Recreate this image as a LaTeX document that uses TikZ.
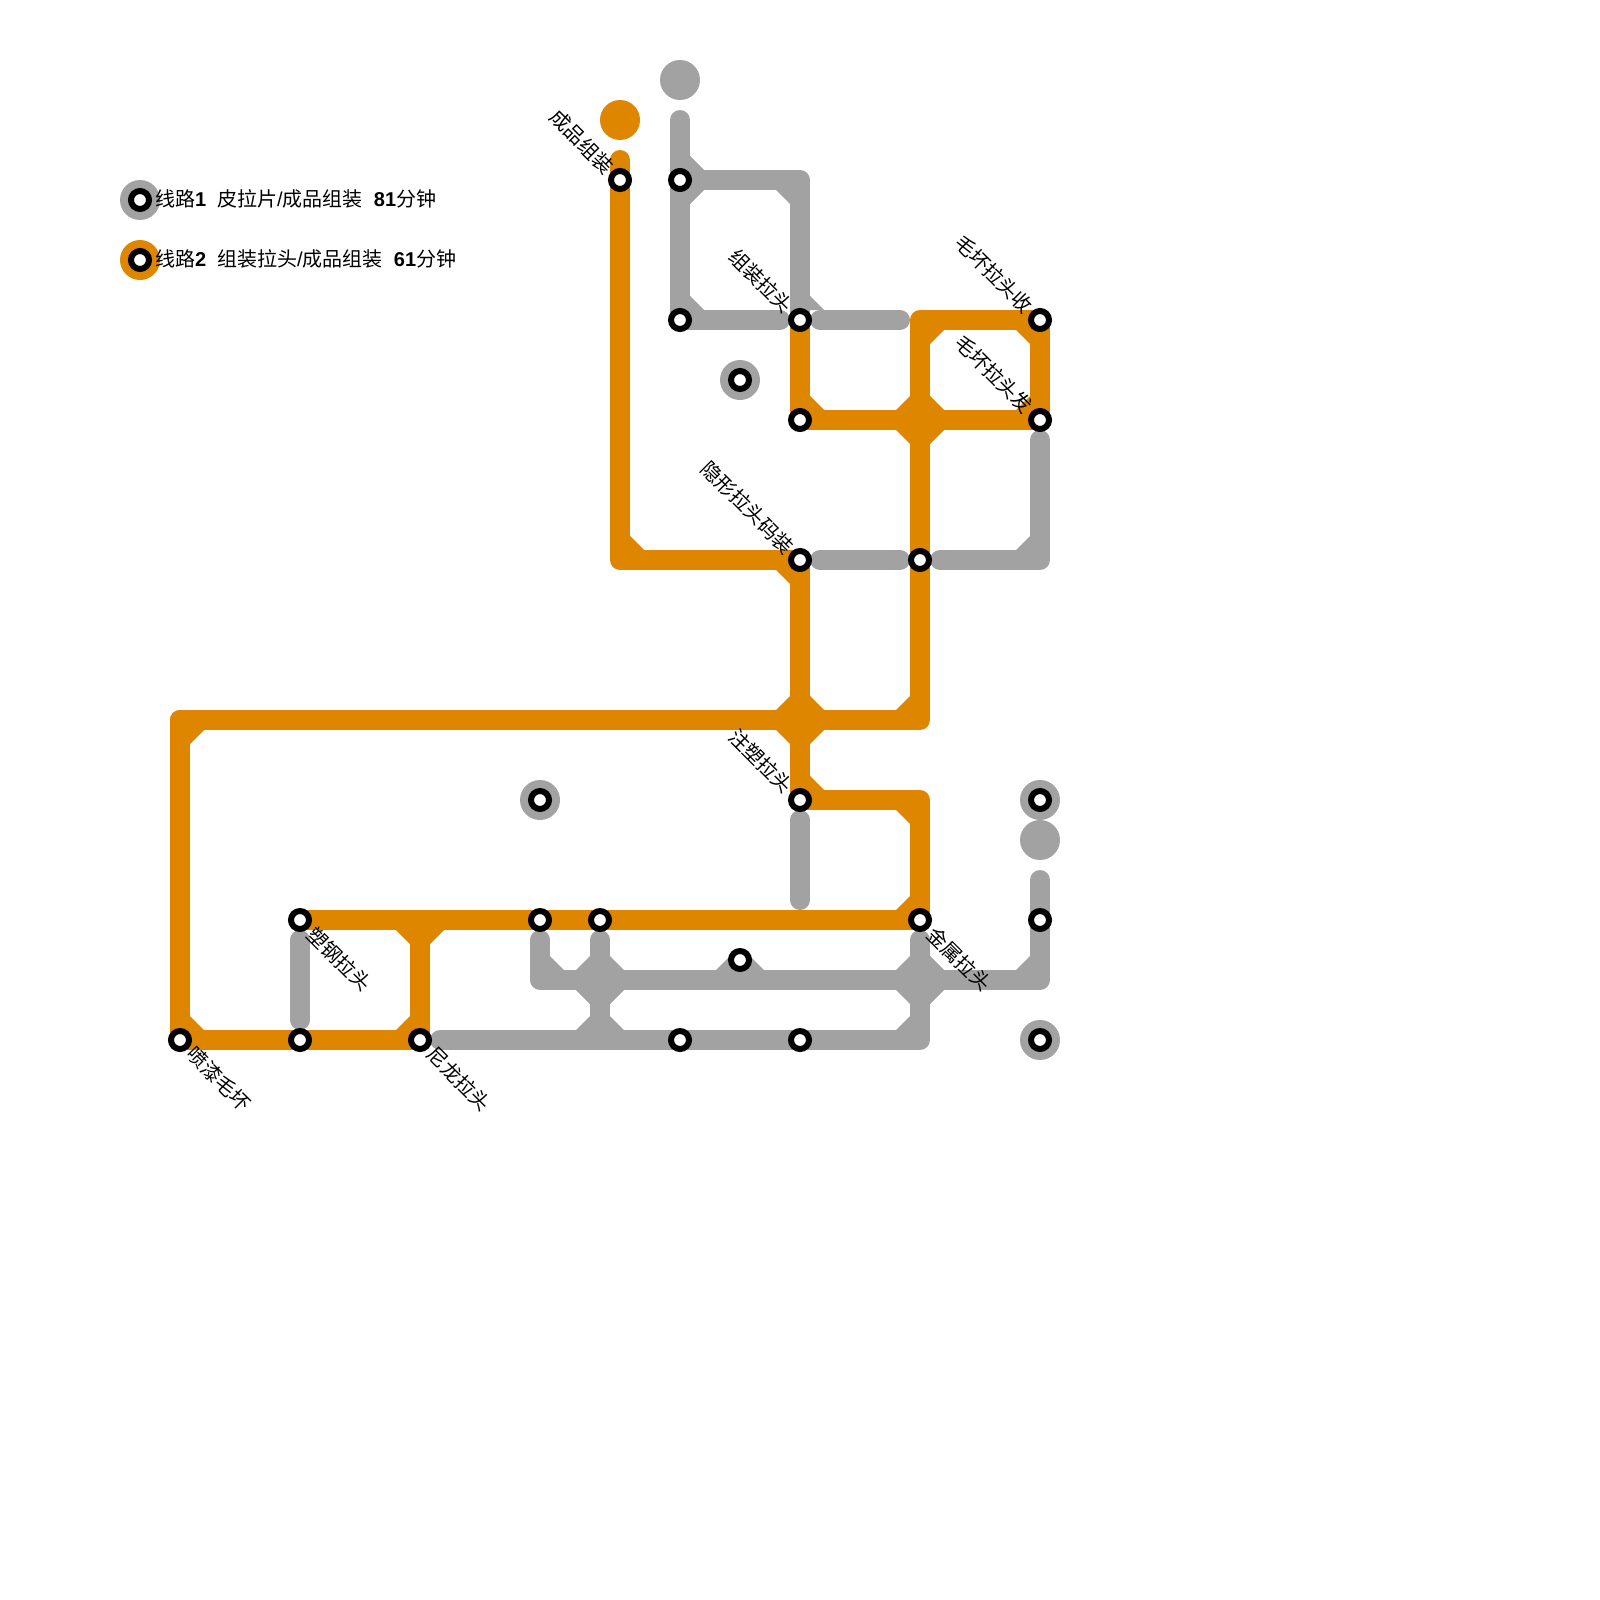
\documentclass[tikz,border=0pt]{standalone}
\usepackage{fontspec}
\setmainfont{Liberation Sans}
\newfontfamily\cjk{Noto Sans CJK SC}
\definecolor{lgray}{HTML}{A2A2A2}
\definecolor{lorange}{HTML}{DF8600}
\pgfdeclarelayer{lines}
\pgfsetlayers{lines,main}
\tikzset{
  gline/.style={draw=lgray,line width=20pt,line cap=round,line join=round},
  oline/.style={draw=lorange,line width=20pt,line cap=round,line join=round},
  stn/.style={circle,draw=black,fill=white,line width=6pt,minimum size=18pt,inner sep=0pt,outer sep=0pt},
  ring/.style={circle,fill=lgray,minimum size=40pt,inner sep=0pt,outer sep=0pt},
  ringo/.style={circle,fill=lorange,minimum size=40pt,inner sep=0pt,outer sep=0pt},
  lab/.style={font=\cjk\fontsize{20}{24}\selectfont,inner sep=0pt,outer sep=0pt,rotate=-45},
  labul/.style={lab,anchor=east},
  labdr/.style={lab,anchor=west},
  legend/.style={font=\fontsize{20}{24}\selectfont,inner sep=0pt,outer sep=0pt,anchor=west}
}
% chamfer: colour, point, x sign, y sign
\newcommand{\cham}[4]{\fill[#1,shift={(#2.center)},xscale=#3,yscale=#4] (10,10) -- (24,10) -- (10,24) -- cycle;}
\newcommand{\chamall}[2]{\cham{#1}{#2}{-1}{-1}\cham{#1}{#2}{1}{-1}\cham{#1}{#2}{-1}{1}\cham{#1}{#2}{1}{1}}
\begin{document}
\begin{tikzpicture}[x=1pt,y=-1pt]
\useasboundingbox (0,0) rectangle (1600,1600);
% free ends and junctions
\coordinate (a1) at (680,120);
\coordinate (a2) at (780,320);
\coordinate (a3) at (800,180);
\coordinate (a4) at (820,320);
\coordinate (a5) at (900,320);
\coordinate (a6) at (1040,440);
\coordinate (a7) at (1040,560);
\coordinate (a8) at (940,560);
\coordinate (a9) at (820,560);
\coordinate (a10) at (900,560);
\coordinate (b1) at (300,940);
\coordinate (b2) at (300,1020);
\coordinate (b3) at (540,940);
\coordinate (b4) at (540,980);
\coordinate (b5) at (1040,980);
\coordinate (b6) at (1040,880);
\coordinate (b7) at (600,940);
\coordinate (b8) at (600,980);
\coordinate (b9) at (600,1040);
\coordinate (b10) at (920,940);
\coordinate (b11) at (920,980);
\coordinate (b12) at (920,1040);
\coordinate (b13) at (440,1040);
\coordinate (b14) at (740,980);
\coordinate (b15) at (800,820);
\coordinate (b16) at (800,900);
\coordinate (c1) at (620,160);
\coordinate (c2) at (620,560);
\coordinate (c3) at (180,720);
\coordinate (c4) at (800,720);
\coordinate (c5) at (920,720);
\coordinate (c6) at (920,420);
\coordinate (c7) at (920,320);
\coordinate (c8) at (920,800);
\coordinate (c9) at (420,920);
% stations
\node[stn] (s1) at (620,180) {};
\node[stn] (s2) at (680,180) {};
\node[stn] (s3) at (680,320) {};
\node[stn] (s4) at (800,320) {};
\node[stn] (s5) at (800,420) {};
\node[stn] (s6) at (1040,320) {};
\node[stn] (s7) at (1040,420) {};
\node[stn] (s8) at (800,560) {};
\node[stn] (s9) at (920,560) {};
\node[stn] (s10) at (800,800) {};
\node[stn] (s11) at (920,920) {};
\node[stn] (s12) at (1040,920) {};
\node[stn] (s13) at (740,960) {};
\node[stn] (s14) at (800,1040) {};
\node[stn] (s15) at (680,1040) {};
\node[stn] (s16) at (540,920) {};
\node[stn] (s17) at (600,920) {};
\node[stn] (s18) at (300,920) {};
\node[stn] (s19) at (300,1040) {};
\node[stn] (s20) at (180,1040) {};
\node[stn] (s21) at (420,1040) {};
\begin{pgfonlayer}{lines}
\node[ring] (r1) at (680,80) {};
\node[ringo] (r2) at (620,120) {};
\node[ring] (r3) at (1040,840) {};
\node[ring] (r4) at (740,380) {};
\node[ring] (r5) at (540,800) {};
\node[ring] (r6) at (1040,800) {};
\node[ring] (r7) at (1040,1040) {};
\node[ring] (r8) at (140,200) {};
\node[ringo] (r9) at (140,260) {};
% grey lines
\draw[gline] (a1.center) -- (s3.center) -- (a2.center);
\draw[gline] (s2.center) -- (a3.center) -- (s4.center);
\draw[gline] (a4.center) -- (a5.center);
\draw[gline] (a6.center) -- (a7.center) -- (a8.center);
\draw[gline] (a9.center) -- (a10.center);
\draw[gline] (b1.center) -- (b2.center);
\draw[gline] (b3.center) -- (b4.center) -- (b5.center) -- (b6.center);
\draw[gline] (b7.center) -- (b9.center);
\draw[gline] (b10.center) -- (b12.center) -- (b13.center);
\draw[gline] (b14.center) -- (s13.center);
\draw[gline] (b15.center) -- (b16.center);
\cham{lgray}{s2}{1}{-1}\cham{lgray}{s2}{1}{1}
\cham{lgray}{a3}{-1}{1}
\cham{lgray}{s3}{1}{-1}
\cham{lgray}{s4}{1}{-1}
\cham{lgray}{a7}{-1}{-1}
\cham{lgray}{b4}{1}{-1}
\chamall{lgray}{b8}
\cham{lgray}{b9}{-1}{-1}\cham{lgray}{b9}{1}{-1}
\chamall{lgray}{b11}
\cham{lgray}{b12}{-1}{-1}
\cham{lgray}{b5}{-1}{-1}
\cham{lgray}{b14}{-1}{-1}\cham{lgray}{b14}{1}{-1}
% orange lines
\draw[oline] (c1.center) -- (c2.center) -- (s8.center) -- (s10.center);
\draw[oline] (c3.center) -- (c5.center) -- (c7.center) -- (s6.center) -- (s7.center) -- (s5.center) -- (s4.center);
\draw[oline] (s10.center) -- (c8.center) -- (s11.center) -- (s18.center);
\draw[oline] (c3.center) -- (s20.center) -- (s21.center) -- (c9.center);
\cham{lorange}{c2}{1}{-1}
\cham{lorange}{s8}{-1}{1}
\cham{lorange}{s5}{1}{-1}
\chamall{lorange}{c6}
\cham{lorange}{c7}{1}{1}
\cham{lorange}{s6}{-1}{1}
\cham{lorange}{s7}{-1}{-1}
\chamall{lorange}{c4}
\cham{lorange}{c5}{-1}{-1}
\cham{lorange}{s10}{1}{-1}
\cham{lorange}{c8}{-1}{1}
\cham{lorange}{s11}{-1}{-1}
\cham{lorange}{c9}{-1}{1}\cham{lorange}{c9}{1}{1}
\cham{lorange}{s21}{-1}{-1}
\cham{lorange}{c3}{1}{1}
\cham{lorange}{s20}{1}{-1}
\end{pgfonlayer}
% stations on rings
\node[stn] (t1) at (740,380) {};
\node[stn] (t2) at (540,800) {};
\node[stn] (t3) at (1040,800) {};
\node[stn] (t4) at (1040,1040) {};
\node[stn] (t5) at (140,200) {};
\node[stn] (t6) at (140,260) {};
% labels
\node[labul] (l1) at (610,170) {成品组装};
\node[labul] (l2) at (789.5,309.5) {组装拉头};
\node[labul] (l3) at (1029.5,309.5) {毛坏拉头收};
\node[labul] (l4) at (1029.5,409.5) {毛坏拉头发};
\node[labul] (l5) at (790,550) {隐形拉头码装};
\node[labul] (l6) at (789.5,789.5) {注塑拉头};
\node[labdr] (l7) at (931,931) {金属拉头};
\node[labdr] (l8) at (311,931) {塑钢拉头};
\node[labdr] (l9) at (190.5,1050.5) {喷漆毛坏};
\node[labdr] (l10) at (430.5,1050.5) {尼龙拉头};
% legend
\node[legend] (k1) at (155,199) {{\cjk 线路}\textbf{1}\hspace{11.1pt}{\cjk 皮拉片}/{\cjk 成品组装}\hspace{11.1pt}\textbf{81}{\cjk 分钟}};
\node[legend] (k2) at (155,259) {{\cjk 线路}\textbf{2}\hspace{11.1pt}{\cjk 组装拉头}/{\cjk 成品组装}\hspace{11.1pt}\textbf{61}{\cjk 分钟}};
\end{tikzpicture}
\end{document}
